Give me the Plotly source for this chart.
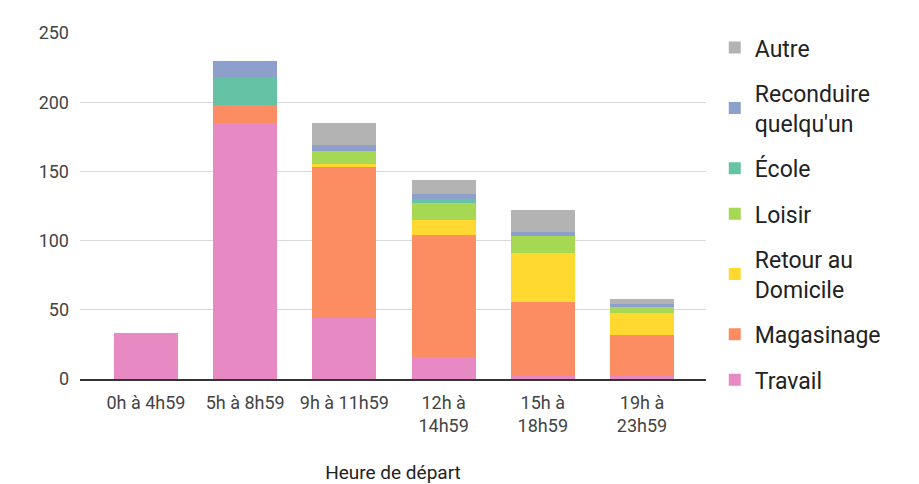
import plotly.graph_objects as go

# Departure time slots (x categories)
categories = ["0h à 4h59", "5h à 8h59", "9h à 11h59",
              "12h à<br>14h59", "15h à<br>18h59", "19h à<br>23h59"]

# Trip counts per purpose, stacked bottom to top
travail = [33, 185, 44, 16, 2, 2]
magasinage = [0, 13, 109, 88, 54, 30]
retour_domicile = [0, 0, 2, 11, 35, 16]
loisir = [0, 0, 10, 12, 12, 4]
ecole = [0, 20, 0, 3, 0, 0]
reconduire = [0, 12, 4, 4, 3, 2]
autre = [0, 0, 16, 10, 16, 4]

y_ticks = [0, 50, 100, 150, 200, 250]

series = [
    ("Travail", travail, "#e78ac3"),
    ("Magasinage", magasinage, "#fc8d62"),
    ("Retour au<br>Domicile", retour_domicile, "#ffd92f"),
    ("Loisir", loisir, "#a6d854"),
    ("École", ecole, "#66c2a5"),
    ("Reconduire<br>quelqu'un", reconduire, "#8da0cb"),
    ("Autre", autre, "#b3b3b3"),
]

fig = go.Figure()
n = len(series)
for i, (name, vals, color) in enumerate(series):
    fig.add_trace(go.Bar(
        x=list(range(len(categories))), y=vals, name=name,
        marker=dict(color=color, line=dict(width=0)),
        legendgroup=f"g{i}",
        legendrank=n - i,  # top of the stack listed first
    ))

fig.update_layout(
    barmode="stack",
    bargap=0.355,
    width=919, height=484,
    margin=dict(l=80, r=213, t=33, b=105),
    paper_bgcolor="white", plot_bgcolor="white",
    font=dict(family="Roboto", color="#444444"),
    legend=dict(
        x=1.014, xanchor="left", y=1.02, yanchor="top",
        traceorder="grouped", tracegroupgap=12.5,
        font=dict(size=23, color="#222222"),
        bgcolor="rgba(0,0,0,0)",
        maxheight=1,
    ),
    xaxis=dict(
        tickmode="array", tickvals=list(range(len(categories))),
        ticktext=categories, range=[-0.665, 5.645],
        tickfont=dict(size=18, color="#444444"),
        showgrid=False, showline=True, linecolor="#333333", linewidth=2,
        ticks="", ticklabelstandoff=6, automargin=False,
        title=dict(text="Heure de départ", font=dict(size=19, color="#222222"),
                   standoff=35),
    ),
    yaxis=dict(
        range=[0, 250], tickvals=y_ticks,
        tickfont=dict(size=18, color="#444444"),
        showgrid=True, gridcolor="#d9d9d9", gridwidth=1,
        zeroline=False, ticks="", ticklabelstandoff=10,
    ),
)

fig.write_html("out.html")
